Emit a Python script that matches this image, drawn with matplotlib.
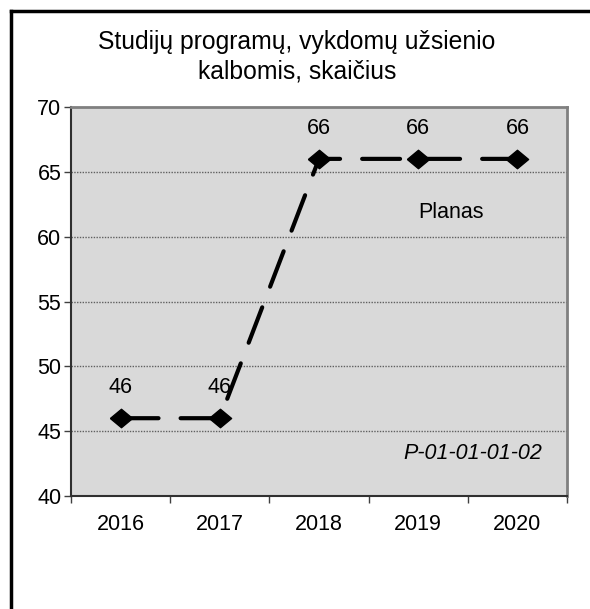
import matplotlib
matplotlib.use('Agg')
import matplotlib.pyplot as plt
from matplotlib.lines import Line2D
import numpy as np

years = ['2016', '2017', '2018', '2019', '2020']
values = [46, 46, 66, 66, 66]
title = 'Studijų programų, vykdomų užsienio\nkalbomis, skaičius'

plt.rcParams['font.family'] = ['Liberation Sans', 'DejaVu Sans']

fig = plt.figure(figsize=(5.9, 6.09), dpi=100)
ax = fig.add_axes([71 / 590, 1 - 496 / 609, 496 / 590, 389 / 609])
ax.set_facecolor('#D9D9D9')

# slightly flattened diamond, like the spreadsheet marker
diamond = [(-1, 0), (0, 0.83), (1, 0), (0, -0.83), (-1, 0)]

x = np.arange(len(years))
ax.plot(x, values, color='black', lw=3, dashes=(9.1, 5.3),
        dash_capstyle='round',
        marker=diamond, markersize=16, markerfacecolor='black', zorder=3)
for xi, v in zip(x, values):
    ax.annotate(str(v), (xi, v), xytext=(0, 22), textcoords='offset points',
                ha='center', va='center', fontsize=15.5)

ax.set_xlim(-0.5, len(years) - 0.5)
ax.set_ylim(40, 70)
ax.set_yticks(range(40, 71, 5))
ax.set_xticks(x)
ax.set_xticklabels(years)
ax.set_xticks(np.arange(-0.5, len(years)), minor=True)
ax.tick_params(axis='x', which='major', length=0, pad=13, labelsize=15.5)
ax.tick_params(axis='x', which='minor', length=5, width=1, color='#404040')
ax.tick_params(axis='y', length=5, width=1, color='#404040', labelsize=15.5, pad=2)
for yv in range(45, 70, 5):
    ax.axhline(yv, color='#606060', lw=1, ls=(0, (1, 1)), zorder=1)

for side in ['top', 'right']:
    ax.spines[side].set_color('#808080')
    ax.spines[side].set_linewidth(2)
for side in ['left', 'bottom']:
    ax.spines[side].set_color('#303030')
    ax.spines[side].set_linewidth(1.5)

ax.text(3.33, 61.9, 'Planas', ha='center', va='center', fontsize=15.5)
ax.text(3.55, 43.3, 'P-01-01-01-02', ha='center', va='center',
        fontsize=15.5, style='italic')

fig.text(297 / 590, 1 - 57 / 609, title, ha='center', va='center',
         fontsize=17.8, linespacing=1.3)

# outer chart frame (only left and top edges are inside the crop)
fig.add_artist(Line2D([11 / 590, 11 / 590], [0, 1 - 11 / 609],
                      transform=fig.transFigure, color='black', lw=2.5))
fig.add_artist(Line2D([11 / 590, 1], [1 - 11 / 609, 1 - 11 / 609],
                      transform=fig.transFigure, color='black', lw=2.5))

fig.savefig('out.png', dpi=100, facecolor='white')
